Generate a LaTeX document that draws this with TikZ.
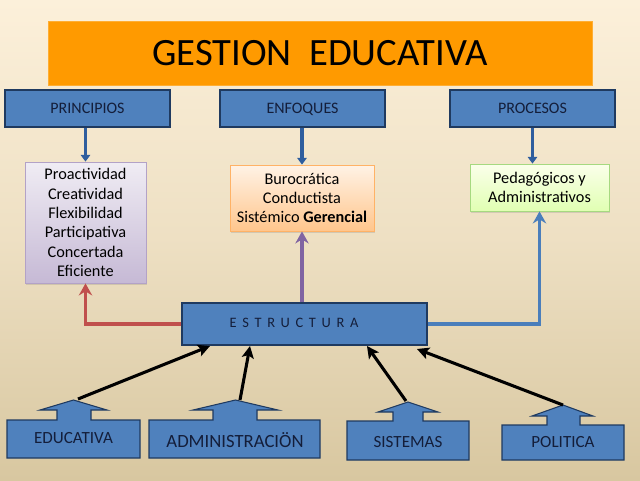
\documentclass[tikz,border=0pt]{standalone}
\usepackage{fontspec}
\setmainfont{Carlito}
\usetikzlibrary{arrows.meta,shadows}
\definecolor{bgtop}{HTML}{FCF0DA}
\definecolor{bgbot}{HTML}{D8C7A0}
\definecolor{ttl}{HTML}{FF9A00}
\definecolor{bfill}{HTML}{4F81BD}
\definecolor{bedge}{HTML}{1F3A60}
\definecolor{btext}{HTML}{141E3A}
\definecolor{redc}{HTML}{C0504D}
\definecolor{purc}{HTML}{8064A2}
\definecolor{bluc}{HTML}{4A7EBB}
\definecolor{dnarr}{HTML}{2F5E9E}
\tikzset{
  hdr/.style={draw=bedge, line width=0.8pt, fill=bfill, text=btext, font=\fontsize{12}{14}\selectfont, inner sep=0pt, text depth=0pt},
  listbox/.style={line width=0.6pt, inner sep=0pt, align=center, text=black,
     drop shadow={opacity=0.25, shadow xshift=1pt, shadow yshift=-1.2pt}},
  downarr/.style={draw=dnarr, line width=2.4pt, -{Triangle[length=5pt,width=7pt]}},
  conn/.style={line width=2.6pt, -{Stealth[length=9pt,width=10pt,inset=3pt]}},
  blk/.style={draw=black, line width=2.3pt, -{Stealth[length=9pt,width=9pt,inset=2pt]}},
  callout/.style={draw=bedge, line width=0.8pt, fill=bfill},
  calltext/.style={text=btext, inner sep=0pt, font=\fontsize{12.8}{14}\selectfont}
}
\begin{document}
\begin{tikzpicture}[x=0.75pt,y=-0.75pt]
\useasboundingbox (0,0) rectangle (640,480);
\shade[top color=bgtop, bottom color=bgbot, middle color=bgtop!60!bgbot] (0,0) rectangle (640,480);

% title
\node[fill=ttl, draw=ttl!80!white, line width=0.6pt, minimum width=408pt, minimum height=48pt, inner sep=0pt,
      font=\fontsize{29}{32}\selectfont] (title) at (320,53) {GESTION\ \ EDUCATIVA};

% headers
\node[hdr, minimum width=123.75pt, minimum height=27.75pt] (princ) at (87.5,108.5) {PRINCIPIOS};
\node[hdr, minimum width=123.75pt, minimum height=27.75pt] (enfo) at (302.5,108.5) {ENFOQUES};
\node[hdr, minimum width=123.75pt, minimum height=27.75pt] (proc) at (532.5,108.5) {PROCESOS};

% lists
\node[listbox, draw=purc!60, top color=purc!12, bottom color=purc!45, minimum width=90.75pt, minimum height=90.75pt,
      font=\fontsize{12.2}{14.5}\selectfont] (plist) at (85.5,222.5)
  {Proactividad\\Creatividad\\Flexibilidad\\Participativa\\Concertada\\Eficiente};
\node[listbox, draw=orange!60, top color=orange!10, bottom color=orange!45, minimum width=108pt, minimum height=49.5pt,
      font=\fontsize{12.2}{14.3}\selectfont] (elist) at (302,198)
  {Burocrática\\Conductista\\Sistémico \textbf{Gerencial}};
\node[listbox, draw=green!40!olive!50, top color=green!20!yellow!8, bottom color=green!40!yellow!30, minimum width=104.25pt, minimum height=35.25pt,
      font=\fontsize{12.2}{14.3}\selectfont] (prlist) at (539.5,187.5)
  {Pedagógicos y\\Administrativos};

% estructura
\node[hdr, minimum width=183.75pt, minimum height=31.5pt] (estr) at (304.5,324) {};
\node[text=btext, font=\fontsize{10.8}{12}\selectfont, inner sep=0pt] (estrt) at (294,323) {E\ \,S\ \,T\ \,R\ \,U\ \,C\ \,T\ \,U\ \,R\ \,A};

% down arrows
\draw[downarr] (princ.south -| plist.north) -- (plist.north);
\draw[downarr] (enfo.south -| elist.north) -- (elist.north);
\draw[downarr] (proc.south) -- (proc.south |- prlist.north);

% connectors from estructura
\draw[conn, draw=redc] (estr.west) -| (plist.south);
\draw[conn, draw=purc] (elist.south |- estr.north) -- (elist.south);
\draw[conn, draw=bluc] (estr.east) -| (prlist.south);

% bottom callouts
\draw[callout] (7,458) -- (7,420) -- (57,420) -- (57,410) -- (40,410) -- (73.5,400) -- (107,410) -- (91,410) -- (91,420) -- (140,420) -- (140,458) -- cycle;
\coordinate (t1) at (78,399);
\node[calltext] (educ) at (73.5,438) {EDUCATIVA};

\draw[callout] (149,458) -- (149,420) -- (213,420) -- (213,410) -- (193,410) -- (235.5,400) -- (278,410) -- (257,410) -- (257,420) -- (320,420) -- (320,458) -- cycle;
\coordinate (t2) at (240,400);
\node[calltext, font=\fontsize{14}{15}\selectfont] (admin) at (235,440) {ADMINISTRACIÖN};

\draw[callout] (347,460) -- (347,421) -- (393,421) -- (393,412) -- (378,412) -- (408,402) -- (438,412) -- (423,412) -- (423,421) -- (469,421) -- (469,460) -- cycle;
\coordinate (t3) at (406,401);
\node[calltext] (sist) at (408,442) {SISTEMAS};

\draw[callout] (502,460) -- (502,425) -- (547,425) -- (547,416) -- (532,416) -- (563,405) -- (593,416) -- (580,416) -- (580,425) -- (624,425) -- (624,460) -- cycle;
\coordinate (t4) at (563,405);
\node[calltext] (poli) at (563,442) {POLITICA};

% black arrows
\coordinate (e1) at (210,346);
\coordinate (e2) at (250,346);
\coordinate (e3) at (367,346);
\coordinate (e4) at (417,349);
\draw[blk] (t1) -- (e1);
\draw[blk] (t2) -- (e2);
\draw[blk] (t3) -- (e3);
\draw[blk] (t4) -- (e4);
\end{tikzpicture}
\end{document}
